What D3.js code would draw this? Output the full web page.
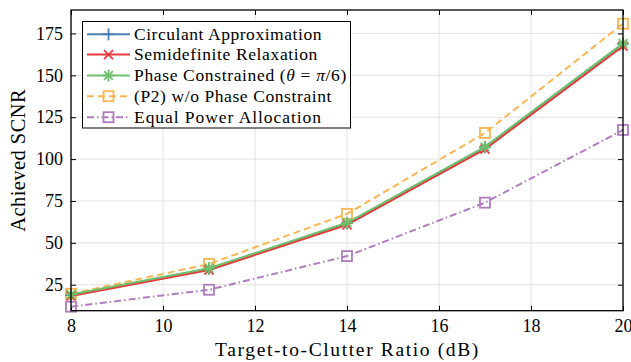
<!DOCTYPE html>
<html><head><meta charset="utf-8">
<script src="https://cdn.jsdelivr.net/npm/d3@7"></script>
<style>body{margin:0;background:#fff}svg{display:block}</style>
</head><body>
<script>
const tcr = [8, 11, 14, 17, 20];
const circulant = [18.8, 34.5, 61.7, 107.0, 168.8];
const sdr = [18.3, 33.8, 60.8, 106.0, 167.4];
const phase = [19.2, 34.8, 62.0, 107.3, 169.1];
const p2 = [19.6, 37.4, 67.3, 115.6, 180.8];
const equalPower = [11.9, 22.0, 42.1, 74.0, 117.4];
const xTicks = [8, 10, 12, 14, 16, 18, 20];
const yTicks = [25, 50, 75, 100, 125, 150, 175];

const series = [
  {name: "Circulant Approximation", values: circulant, color: "#4a7fb5", dash: null, marker: "plus"},
  {name: "Semidefinite Relaxation", values: sdr, color: "#e8393b", dash: null, marker: "x"},
  {name: "Phase Constrained (θ = π/6)", values: phase, color: "#6fc06c", dash: null, marker: "star"},
  {name: "(P2) w/o Phase Constraint", values: p2, color: "#fbb552", dash: "7,4", marker: "square"},
  {name: "Equal Power Allocation", values: equalPower, color: "#b07cc0", dash: "7,3,1.5,3", marker: "square"}
];
const drawOrder = [4, 3, 0, 1, 2];

const W = 631, H = 362;
const m = {l: 71, r: 623, t: 10, b: 310.7};
const svg = d3.select("body").append("svg").attr("width", W).attr("height", H);
const x = d3.scaleLinear().domain([8, 20]).range([m.l, m.r]);
const y = d3.scaleLinear().domain([9.5, 189]).range([m.b, m.t]);
const font = "'Liberation Serif', serif";

function fit(t, target) {
  const n = t.node();
  const w = n.getComputedTextLength();
  const chars = n.textContent.length;
  if (chars > 1) t.attr("letter-spacing", (target - w) / chars);
}

// grid
const g = svg.append("g");
g.selectAll(".gx").data(xTicks).join("line").attr("x1", d => x(d)).attr("x2", d => x(d))
  .attr("y1", m.t).attr("y2", m.b).attr("stroke", "#e3e3e3").attr("stroke-width", 1);
g.selectAll(".gy").data(yTicks).join("line").attr("y1", d => y(d)).attr("y2", d => y(d))
  .attr("x1", m.l).attr("x2", m.r).attr("stroke", "#e3e3e3").attr("stroke-width", 1);

// axes with inward ticks
const tl = 5;
svg.append("g").attr("transform", `translate(0,${m.b})`)
  .call(d3.axisBottom(x).tickValues(xTicks).tickSizeInner(-tl).tickSizeOuter(0).tickPadding(9).tickFormat(d3.format("d")))
  .call(a => { a.select(".domain").remove(); a.selectAll("text").attr("font-family", font).attr("font-size", 18).attr("fill", "#000"); a.selectAll("line").attr("stroke", "#000"); });
svg.append("g").attr("transform", `translate(0,${m.t})`)
  .call(d3.axisTop(x).tickValues(xTicks).tickSizeInner(-tl).tickSizeOuter(0).tickFormat(""))
  .call(a => { a.select(".domain").remove(); a.selectAll("line").attr("stroke", "#000"); });
svg.append("g").attr("transform", `translate(${m.l},0)`)
  .call(d3.axisLeft(y).tickValues(yTicks).tickSizeInner(-tl).tickSizeOuter(0).tickPadding(8))
  .call(a => { a.select(".domain").remove(); a.selectAll("text").attr("font-family", font).attr("font-size", 18).attr("fill", "#000"); a.selectAll("line").attr("stroke", "#000"); });
svg.append("g").attr("transform", `translate(${m.r},0)`)
  .call(d3.axisRight(y).tickValues(yTicks).tickSizeInner(-tl).tickSizeOuter(0).tickFormat(""))
  .call(a => { a.select(".domain").remove(); a.selectAll("line").attr("stroke", "#000"); });

// markers
function marker(sel, type, color, cx, cy, s) {
  const gg = sel.append("g").attr("transform", `translate(${cx},${cy})`);
  const st = {stroke: color, "stroke-width": 1.8, fill: "none"};
  const L = (x1, y1, x2, y2) => { const l = gg.append("line").attr("x1", x1).attr("y1", y1).attr("x2", x2).attr("y2", y2); Object.entries(st).forEach(([k, v]) => l.attr(k, v)); };
  if (type === "plus") { L(-s, 0, s, 0); L(0, -s, 0, s); }
  else if (type === "x") { const k = s * 0.75; L(-k, -k, k, k); L(-k, k, k, -k); }
  else if (type === "star") { L(-s, 0, s, 0); L(0, -s, 0, s); const k = s * 0.72; L(-k, -k, k, k); L(-k, k, k, -k); }
  else if (type === "square") { const r = gg.append("rect").attr("x", -s).attr("y", -s).attr("width", 2 * s).attr("height", 2 * s); Object.entries(st).forEach(([k, v]) => r.attr(k, v)); }
}

const line = d3.line().x((d, i) => x(tcr[i])).y(d => y(d));
const plot = svg.append("g");
drawOrder.forEach(idx => {
  const s = series[idx];
  plot.append("path").attr("d", line(s.values)).attr("fill", "none").attr("stroke", s.color)
    .attr("stroke-width", 2).attr("stroke-dasharray", s.dash);
  s.values.forEach((v, i) => marker(plot, s.marker, s.color, x(tcr[i]), y(v), s.marker === "square" ? 5 : 6));
});

// frame
svg.append("rect").attr("x", m.l).attr("y", m.t).attr("width", m.r - m.l).attr("height", m.b - m.t)
  .attr("fill", "none").attr("stroke", "#000").attr("stroke-width", 1.3);

// legend
const lg = svg.append("g");
lg.append("rect").attr("x", 82.5).attr("y", 21.5).attr("width", 268).attr("height", 106.5)
  .attr("fill", "#fff").attr("stroke", "#000").attr("stroke-width", 1);
const legendY = [34.3, 54.6, 75.5, 96.2, 117.2];
const legendW = [188, 184, 213, 198, 188];
series.forEach((s, i) => {
  const yy = legendY[i];
  lg.append("line").attr("x1", 87).attr("x2", 130).attr("y1", yy).attr("y2", yy)
    .attr("stroke", s.color).attr("stroke-width", 2).attr("stroke-dasharray", s.dash);
  marker(lg, s.marker, s.color, 108.5, yy, s.marker === "square" ? 5 : 6);
  const t = lg.append("text").attr("x", 134).attr("y", yy + 5.8).attr("font-family", font).attr("font-size", 17.5).attr("fill", "#000");
  if (i === 2) {
    t.append("tspan").text("Phase Constrained (");
    t.append("tspan").attr("font-style", "italic").text("θ");
    t.append("tspan").text(" = ");
    t.append("tspan").attr("font-style", "italic").text("π");
    t.append("tspan").text("/6)");
  } else t.text(s.name);
  fit(t, legendW[i]);
});

// axis labels
const xl = svg.append("text").attr("x", (m.l + m.r) / 2 + 0.5).attr("y", 355.5).attr("text-anchor", "middle")
  .attr("font-family", font).attr("font-size", 19.5).attr("fill", "#000").text("Target-to-Clutter Ratio (dB)");
fit(xl, 265);
const yl = svg.append("text").attr("transform", `translate(25,${(m.t + m.b) / 2}) rotate(-90)`).attr("text-anchor", "middle")
  .attr("font-family", font).attr("font-size", 20.5).attr("fill", "#000").text("Achieved SCNR");
fit(yl, 143);
</script>
</body></html>
